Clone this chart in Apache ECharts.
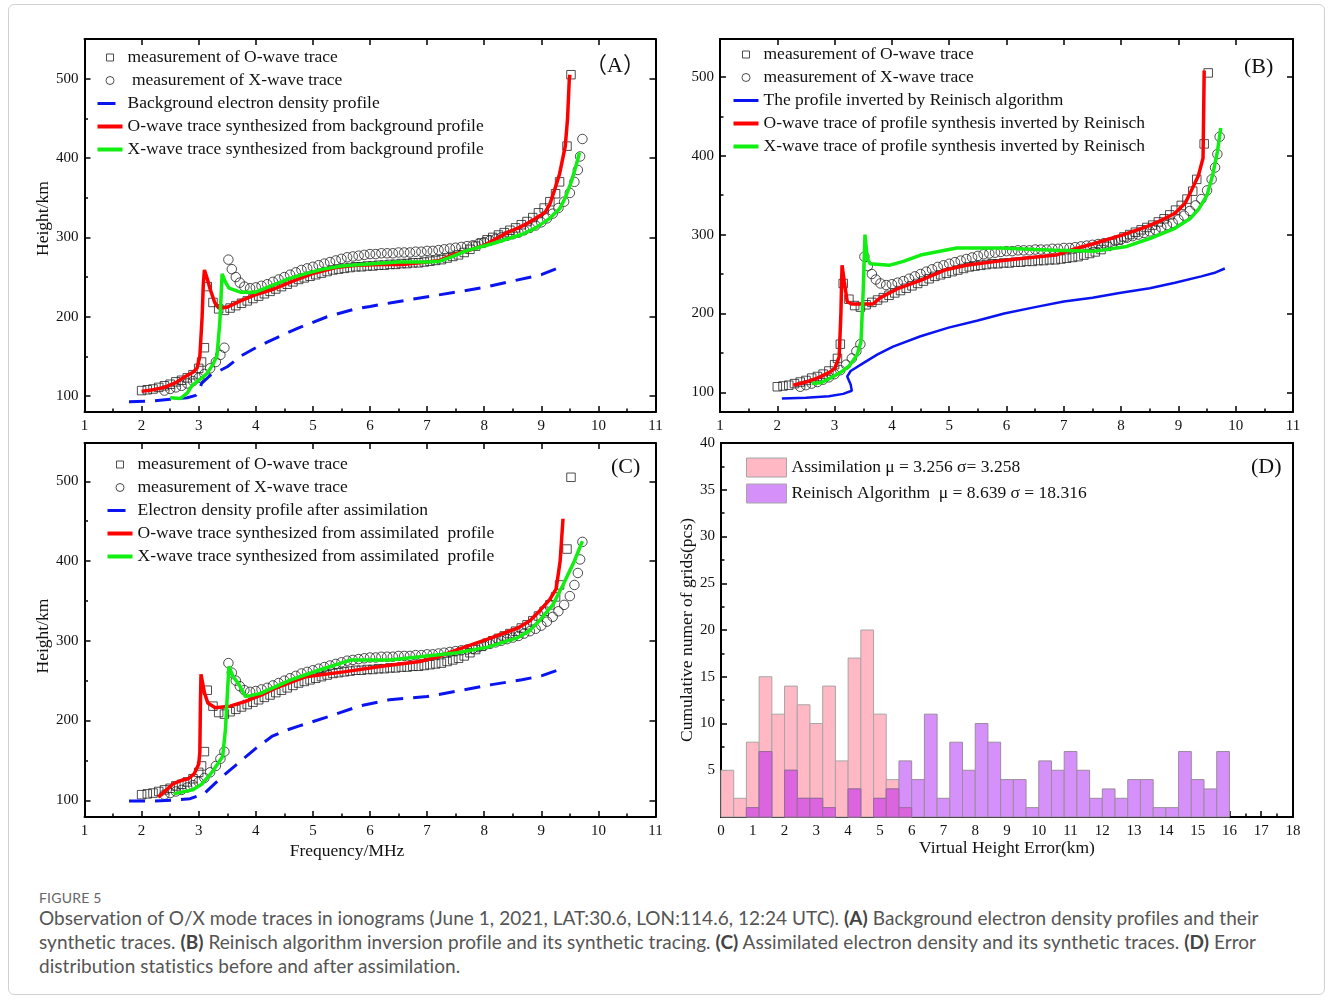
<!DOCTYPE html>
<html><head><meta charset="utf-8">
<script src="https://cdn.jsdelivr.net/npm/echarts@6/dist/echarts.min.js"></script>
<style>
html,body{margin:0;padding:0;background:#fff;}
#wrap{position:relative;width:1332px;height:1000px;overflow:hidden;background:#fff;}
#frame{position:absolute;left:8px;top:4px;width:1317px;height:991px;border:1px solid #d2d2d2;border-radius:6px;box-sizing:border-box;}
#chart{position:absolute;left:0;top:0;width:1332px;height:880px;}
#cap{position:absolute;left:39px;top:889px;font-family:Lato,'Noto Sans',sans-serif;color:#555;}
#cap .fig{font-size:14px;line-height:17px;height:17px;color:#666;letter-spacing:0.2px;}
#cap .txt{font-size:19px;line-height:24px;white-space:nowrap;letter-spacing:0.05px;}
#cap b{color:#444;}
</style></head><body>
<div id="wrap"><div id="frame"></div><div id="chart"></div>
<div id="cap"><div class="fig">FIGURE 5</div><div class="txt">Observation of O/X mode traces in ionograms (June 1, 2021, LAT:30.6, LON:114.6, 12:24 UTC). <b>(A)</b> Background electron density profiles and their<br>synthetic traces. <b>(B)</b> Reinisch algorithm inversion profile and its synthetic tracing. <b>(C)</b> Assimilated electron density and its synthetic traces. <b>(D)</b> Error<br>distribution statistics before and after assimilation.</div></div>
</div>
<script>
// ---------- DATA ----------
// measured O-wave trace (frequency MHz, virtual height km)
const measOWave = [[2.0,107],[2.1,108],[2.2,109],[2.3,111],[2.4,113],[2.5,115],[2.6,118],[2.7,120],[2.8,123],[2.9,127],[3.0,135],[3.05,143],[3.1,161],[3.15,238],[3.25,218],[3.35,210],[3.45,208],[3.55,211],[3.65,214],[3.75,217],[3.85,220],[3.95,223],[4.05,226],[4.15,229],[4.25,232],[4.35,235],[4.45,238],[4.55,241],[4.65,244],[4.75,247],[4.85,249],[4.95,251],[5.05,253],[5.15,255],[5.25,257],[5.35,259],[5.45,260],[5.55,261],[5.65,262],[5.75,263],[5.85,263],[5.95,264],[6.05,264],[6.15,265],[6.25,265],[6.35,266],[6.45,266],[6.55,267],[6.65,267],[6.75,268],[6.85,268],[6.95,269],[7.05,270],[7.15,271],[7.25,272],[7.35,274],[7.45,276],[7.55,278],[7.65,281],[7.75,285],[7.85,289],[7.95,293],[8.05,297],[8.15,300],[8.25,303],[8.35,306],[8.45,309],[8.55,312],[8.65,316],[8.75,320],[8.85,325],[8.95,331],[9.05,337],[9.15,345],[9.25,355],[9.32,370],[9.45,415],[9.52,505]];
// measured X-wave trace
const measXWave = [[2.4,107],[2.5,109],[2.6,111],[2.7,113],[2.8,116],[2.9,119],[3.0,123],[3.1,128],[3.2,135],[3.3,143],[3.38,152],[3.45,161],[3.52,272],[3.58,260],[3.65,250],[3.72,243],[3.8,238],[3.9,236],[4.0,237],[4.1,239],[4.2,241],[4.3,244],[4.4,247],[4.5,250],[4.6,253],[4.7,256],[4.8,259],[4.9,261],[5.0,263],[5.1,265],[5.2,267],[5.3,269],[5.4,271],[5.5,273],[5.6,275],[5.7,276],[5.8,277],[5.9,278],[6.0,279],[6.1,279],[6.2,280],[6.3,280],[6.4,280],[6.5,281],[6.6,281],[6.7,281],[6.8,282],[6.9,282],[7.0,283],[7.1,283],[7.2,284],[7.3,285],[7.4,286],[7.5,287],[7.6,288],[7.7,289],[7.8,290],[7.9,292],[8.0,294],[8.1,296],[8.2,298],[8.3,300],[8.4,302],[8.5,304],[8.6,306],[8.7,309],[8.8,312],[8.9,315],[9.0,319],[9.1,324],[9.2,330],[9.3,337],[9.4,345],[9.5,356],[9.58,370],[9.64,385],[9.68,402],[9.72,424]];

// Panel A
const profileA = [[1.78,93],[2.2,94],[2.5,96],[2.8,98],[2.95,101],[3.0,105],[3.05,116],[3.2,126],[3.5,137],[3.75,151],[4.0,161],[4.2,168],[4.5,178],[4.75,186],[5.0,193],[5.25,200],[5.5,205],[5.75,210],[6.0,213],[6.4,218],[6.9,224],[7.5,231],[8.0,237],[8.5,245],[9.0,253],[9.28,261]];
const oTraceA = [[2.0,106],[2.2,108],[2.4,111],[2.6,117],[2.75,124],[2.9,130],[2.97,135],[3.02,150],[3.06,200],[3.08,240],[3.1,259],[3.15,248],[3.2,235],[3.28,218],[3.35,211],[3.5,212],[3.73,220],[4.0,228],[4.32,235],[4.65,245],[4.98,254],[5.4,262],[5.77,265],[6.2,266],[6.56,266],[7.0,269],[7.22,271],[7.48,279],[7.75,284],[8.0,290],[8.2,298],[8.4,306],[8.6,312],[8.79,319],[9.06,331],[9.15,342],[9.22,357],[9.32,380],[9.42,415],[9.46,450],[9.49,499],[9.5,505]];
const xTraceA = [[2.5,98],[2.68,97],[2.8,104],[2.88,113],[3.0,120],[3.14,128],[3.25,140],[3.32,151],[3.37,193],[3.41,254],[3.46,245],[3.53,236],[3.73,231],[3.99,231],[4.3,240],[4.58,248],[4.9,255],[5.18,260],[5.5,264],[5.84,266],[6.5,269],[7.0,269],[7.22,270],[7.45,276],[7.68,283],[8.14,292],[8.4,298],[8.67,304],[8.9,312],[9.13,323],[9.32,336],[9.42,350],[9.52,369],[9.6,388],[9.67,407]];

// Panel B
const profileB = [[2.08,92],[2.5,93],[2.9,95],[3.15,98],[3.3,102],[3.28,110],[3.22,120],[3.28,127],[3.5,137],[3.75,148],[4.02,158],[4.5,171],[4.99,182],[5.5,191],[5.96,200],[6.5,208],[7.0,215],[7.5,220],[7.97,226],[8.5,232],[8.94,239],[9.4,247],[9.65,252],[9.81,257]];
const oTraceB = [[2.28,109],[2.5,113],[2.7,118],[2.9,125],[3.0,130],[3.08,145],[3.11,200],[3.13,261],[3.17,240],[3.22,215],[3.3,212],[3.67,212],[3.8,220],[4.09,231],[4.5,242],[4.92,255],[5.3,261],[5.82,266],[6.3,270],[6.86,274],[7.2,282],[7.55,289],[8.04,300],[8.45,310],[8.7,318],[8.94,327],[9.12,340],[9.22,355],[9.35,375],[9.43,397],[9.44,450],[9.45,508]];
const xTraceB = [[2.6,111],[2.75,112],[2.9,117],[3.1,125],[3.25,133],[3.39,147],[3.46,164],[3.5,230],[3.53,300],[3.57,270],[3.62,263],[3.95,261],[4.2,266],[4.5,274],[5.13,283],[5.9,283],[6.5,281],[6.86,280],[7.55,279],[8.1,285],[8.5,295],[8.94,308],[9.2,320],[9.36,333],[9.5,350],[9.6,376],[9.68,405],[9.74,435]];

// Panel C
const profileC = [[1.78,99],[2.2,99],[2.56,100],[2.85,102],[3.09,108],[3.3,122],[3.5,135],[3.75,150],[4.0,165],[4.28,180],[4.5,187],[4.75,193],[5.28,205],[5.81,218],[6.34,226],[7.0,230],[7.53,237],[8.13,245],[8.66,251],[9.0,256],[9.32,264]];
const oTraceC = [[2.29,104],[2.45,114],[2.56,121],[2.7,125],[2.82,127],[2.92,133],[3.0,145],[3.02,160],[3.03,220],[3.04,258],[3.1,235],[3.16,222],[3.29,216],[3.55,218],[3.82,224],[4.1,232],[4.35,241],[4.88,255],[5.54,261],[6.21,268],[6.87,274],[7.2,280],[7.53,289],[8.06,302],[8.59,316],[8.8,325],[8.99,339],[9.15,352],[9.26,365],[9.33,400],[9.38,453]];
const xTraceC = [[2.56,108],[2.89,113],[3.05,120],[3.22,134],[3.42,155],[3.47,190],[3.49,218],[3.53,268],[3.6,255],[3.69,247],[3.82,230],[4.08,234],[4.61,251],[5.14,264],[5.67,276],[6.34,276],[7.0,281],[7.53,285],[8.06,292],[8.59,304],[8.8,313],[8.99,327],[9.2,345],[9.38,370],[9.58,400],[9.72,425]];

// Panel D histogram: bin edges (km) and counts
const errBinEdges = [0,0.4,0.8,1.2,1.6,2.0,2.4,2.8,3.2,3.6,4.0,4.4,4.8,5.2,5.6,6.0,6.4,6.8,7.2,7.6,8.0,8.4,8.8,9.2,9.6,10.0,10.4,10.8,11.2,11.6,12.0,12.4,12.8,13.2,13.6,14.0,14.4,14.8,15.2,15.6,16.0];
const assimCounts = [5,2,8,15,11,14,12,10,14,6,17,20,11,4,1];
const reinischCounts = [0,0,1,7,0,5,2,2,1,0,3,0,2,3,6,4,11,2,8,5,10,8,4,4,1,6,5,7,5,2,3,2,4,4,1,1,7,4,3,7];

const heightTicks = [100,200,300,400,500];
const heightMinorTicks = [150,250,350,450];

// ---------- CHART ----------
const SERIF = 'Liberation Serif';
const TXT = '#111';
const chart = echarts.init(document.getElementById('chart'), null, {renderer:'canvas'});

const grids = [
  {left:84.5, top:39, width:571, height:373},
  {left:720, top:39, width:573, height:373},
  {left:84.5, top:443, width:571, height:374},
  {left:721, top:443, width:572, height:374}
];
const yRanges = [[80,550],[75,548],[79,548]];

const axLine = {show:true, onZero:false, lineStyle:{color:'#000', width:2}};
const tickStyle = {color:'#000', width:1.5};
const labelStyle = {color:TXT, fontFamily:SERIF, fontSize:15};
const nameStyle = {color:TXT, fontFamily:SERIF, fontSize:17.5};

const xAxes = [], yAxes = [];
for (let g = 0; g < 3; g++) {
  const xb = {type:'value', gridIndex:g, position:'bottom', min:1, max:11, interval:1,
    axisLine:axLine, axisTick:{show:true, inside:true, length:6, lineStyle:tickStyle},
    minorTick:{show:true, splitNumber:2, length:3.5, lineStyle:tickStyle},
    axisLabel:Object.assign({margin:7}, labelStyle), splitLine:{show:false}, minorSplitLine:{show:false}};
  if (g === 2) {
    Object.assign(xb, {name:'Frequency/MHz', nameLocation:'middle', nameGap:25,
      nameTextStyle:Object.assign({padding:[0,46,0,0]}, nameStyle)});
  }
  xAxes.push(xb);
  xAxes.push({type:'value', gridIndex:g, position:'top', min:1, max:11, interval:1,
    axisLine:axLine, axisTick:{show:true, inside:true, length:6, lineStyle:tickStyle},
    axisLabel:{show:false}, splitLine:{show:false}});
  const [mn, mx] = yRanges[g];
  const yl = {type:'value', gridIndex:g, position:'left', min:mn, max:mx,
    axisLine:axLine, axisTick:{show:true, inside:true, length:6, lineStyle:tickStyle, customValues:heightTicks},
    axisLabel:Object.assign({margin:6, customValues:heightTicks}, labelStyle), splitLine:{show:false}};
  if (g !== 1) {
    const pad = g === 0 ? [0,0,0,14] : [0,12,0,0];
    Object.assign(yl, {name:'Height/km', nameLocation:'middle', nameGap:32,
      nameTextStyle:Object.assign({padding:pad}, nameStyle)});
  }
  yAxes.push(yl);
  yAxes.push({type:'value', gridIndex:g, position:'left', min:mn, max:mx,
    axisLine:{show:false}, axisTick:{show:true, inside:true, length:3.5, lineStyle:tickStyle, customValues:heightMinorTicks},
    axisLabel:{show:false}, splitLine:{show:false}});
  yAxes.push({type:'value', gridIndex:g, position:'right', min:mn, max:mx,
    axisLine:axLine, axisTick:{show:true, inside:true, length:6, lineStyle:tickStyle, customValues:heightTicks},
    axisLabel:{show:false}, splitLine:{show:false}});
}
// Panel D axes
xAxes.push({type:'value', gridIndex:3, position:'bottom', min:0, max:18, interval:1,
  axisLine:axLine, axisTick:{show:true, inside:true, length:6, lineStyle:tickStyle},
  minorTick:{show:true, splitNumber:2, length:3.5, lineStyle:tickStyle},
  axisLabel:Object.assign({margin:7}, labelStyle), splitLine:{show:false},
  name:'Virtual Height Error(km)', nameLocation:'middle', nameGap:21.5, nameTextStyle:nameStyle});
xAxes.push({type:'value', gridIndex:3, position:'top', min:0, max:18, interval:1,
  axisLine:axLine, axisTick:{show:false}, axisLabel:{show:false}, splitLine:{show:false}});
yAxes.push({type:'value', gridIndex:3, position:'left', min:0, max:40, interval:5,
  axisLine:axLine, axisTick:{show:true, inside:true, length:6, lineStyle:tickStyle},
  minorTick:{show:true, splitNumber:2, length:3.5, lineStyle:tickStyle},
  axisLabel:Object.assign({margin:6, formatter:v => v === 0 ? '' : String(v)}, labelStyle), splitLine:{show:false},
  name:'Cumulative numer of grids(pcs)', nameLocation:'middle', nameGap:24, nameTextStyle:nameStyle});
yAxes.push({type:'value', gridIndex:3, position:'right', min:0, max:40, interval:5,
  axisLine:axLine, axisTick:{show:false}, axisLabel:{show:false}, splitLine:{show:false}});

const RED = '#ff0000', GREEN = '#11ee11', BLUE = '#0a14f0';
const hollow = {color:'rgba(0,0,0,0)', borderColor:'#222', borderWidth:1};

function measSeries(name, data, g, symbol, size) {
  return {type:'scatter', name, data, xAxisIndex:g*2, yAxisIndex:g*3, symbol, symbolSize:size,
    itemStyle:hollow, z:2, silent:true};
}
function lineSeries(name, data, g, color, width, dash, z) {
  return {type:'line', name, data, xAxisIndex:g*2, yAxisIndex:g*3, symbol:'none', smooth:false,
    lineStyle:{color, width, type:dash || 'solid'}, itemStyle:{color}, z, silent:true};
}

const names = {
  A:[ 'measurement of O-wave trace',' measurement of X-wave trace','Background electron density profile','O-wave trace synthesized from background profile','X-wave trace synthesized from background profile'],
  B:[ 'measurement of O-wave trace','measurement of X-wave trace','The profile inverted by Reinisch algorithm','O-wave trace of profile synthesis inverted by Reinisch','X-wave trace of profile synthesis inverted by Reinisch'],
  C:[ 'measurement of O-wave trace','measurement of X-wave trace','Electron density profile after assimilation','O-wave trace synthesized from assimilated  profile','X-wave trace synthesized from assimilated  profile']
};
const DASH = [16, 10];
const series = [];
const panels = [
  {n:names.A, prof:profileA, o:oTraceA, x:xTraceA, dash:DASH, pw:3},
  {n:names.B, prof:profileB, o:oTraceB, x:xTraceB, dash:null, pw:2.5},
  {n:names.C, prof:profileC, o:oTraceC, x:xTraceC, dash:DASH, pw:3}
];
panels.forEach((p, g) => {
  series.push(measSeries(p.n[0], measOWave, g, 'rect', 8.5));
  series.push(measSeries(p.n[1], measXWave, g, 'circle', 9.5));
  series.push(lineSeries(p.n[2], p.prof, g, BLUE, p.pw, p.dash, 3));
  series.push(lineSeries(p.n[3], p.o, g, RED, 3.5, null, 4));
  series.push(lineSeries(p.n[4], p.x, g, GREEN, 3.5, null, 5));
});

const PINK = '#ffb8c4', PURPLE = '#d690fa', MAGENTA = '#dc64de';
function histRender(fill, stroke) {
  return function (params, api) {
    const n = api.value(2);
    if (!n) return null;
    const p0 = api.coord([api.value(0), n]);
    const p1 = api.coord([api.value(1), 0]);
    return {type:'rect', shape:{x:p0[0], y:p0[1], width:p1[0]-p0[0], height:p1[1]-p0[1]},
      style:{fill, stroke, lineWidth:1}};
  };
}
const assimName = 'Assimilation μ = 3.256 σ= 3.258';
const reinName = 'Reinisch Algorithm  μ = 8.639 σ = 18.316';
const toBins = counts => counts.map((n, i) => [errBinEdges[i], errBinEdges[i+1], n]);
// where both histograms cover the same bin, the overlapping part is drawn darker
const overlapCounts = reinischCounts.map((n, i) => Math.min(n, assimCounts[i] || 0));
series.push({type:'custom', name:assimName, xAxisIndex:6, yAxisIndex:9, data:toBins(assimCounts),
  encode:{x:[0,1], y:2}, renderItem:histRender(PINK, '#a6a6a6'), itemStyle:{color:PINK}, z:2, silent:true});
series.push({type:'custom', name:reinName, xAxisIndex:6, yAxisIndex:9, data:toBins(reinischCounts),
  encode:{x:[0,1], y:2}, renderItem:histRender(PURPLE, '#9a8a9e'), itemStyle:{color:PURPLE}, z:3, silent:true});
series.push({type:'custom', name:'overlap', xAxisIndex:6, yAxisIndex:9, data:toBins(overlapCounts),
  encode:{x:[0,1], y:2}, renderItem:histRender(MAGENTA, '#9a6a9e'), itemStyle:{color:MAGENTA}, z:4, silent:true});

// legends
const ICON_SQ = 'path://M0,0M25,10M9,1.5H16V8.5H9Z';
const ICON_CI = 'path://M0,0M25,10M16.5,5A4,4,0,1,1,8.5,5A4,4,0,1,1,16.5,5Z';
const ICON_LINE = 'path://M0,0M25,10M0,3H25V7H0Z';
const ICON_DASH = 'path://M0,0M25,10M0,3.5H18V6.5H0Z';
const ICON_THIN = 'path://M0,0M25,10M0,3.5H25V6.5H0Z';
function legendFor(n, left, top, profIcon) {
  return {left, top, orient:'vertical', padding:0, itemWidth:25, itemHeight:10, itemGap:5,
    selectedMode:false, textStyle:{fontFamily:SERIF, fontSize:17.5, color:TXT},
    data:[
      {name:n[0], icon:ICON_SQ, itemStyle:hollow},
      {name:n[1], icon:ICON_CI, itemStyle:hollow},
      {name:n[2], icon:profIcon, itemStyle:{color:BLUE, borderWidth:0}},
      {name:n[3], icon:ICON_LINE, itemStyle:{color:RED, borderWidth:0}},
      {name:n[4], icon:ICON_LINE, itemStyle:{color:GREEN, borderWidth:0}}
    ]};
}
const legends = [
  legendFor(names.A, 97, 48.5, ICON_DASH),
  legendFor(names.B, 733, 45.5, ICON_THIN),
  legendFor(names.C, 107, 455.5, ICON_DASH),
  {left:746, top:457.5, orient:'vertical', padding:0, itemWidth:40, itemHeight:19, itemGap:6,
    selectedMode:false, textStyle:{fontFamily:SERIF, fontSize:17.5, color:TXT},
    data:[
      {name:assimName, icon:'rect', itemStyle:{color:PINK, borderColor:'#a6a6a6', borderWidth:1}},
      {name:reinName, icon:'rect', itemStyle:{color:PURPLE, borderColor:'#a6a6a6', borderWidth:1}}
    ]}
];

const panelFont = '22px "Liberation Serif", "Noto Sans CJK SC"';
const graphic = [
  {type:'text', left:585, top:55, style:{text:'（A）', font:panelFont, fill:TXT}},
  {type:'text', left:1244, top:56, style:{text:'(B)', font:panelFont, fill:TXT}},
  {type:'text', left:611, top:456, style:{text:'(C)', font:panelFont, fill:TXT}},
  {type:'text', left:1251, top:456, style:{text:'(D)', font:panelFont, fill:TXT}}
];

chart.setOption({
  animation:false,
  backgroundColor:'transparent',
  grid:grids,
  xAxis:xAxes,
  yAxis:yAxes,
  legend:legends,
  series,
  graphic
});
</script>
</body></html>
